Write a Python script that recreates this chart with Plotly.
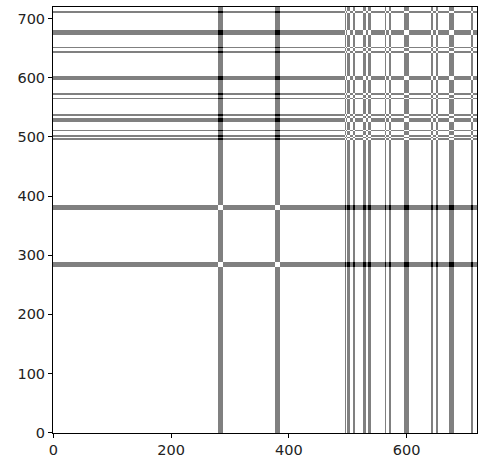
import numpy as np
import plotly.graph_objects as go

n = 720
# line centres / widths (in pixels of the 720x720 matrix) and their values
group_a_pos = [285, 381]
group_a_width = [8, 8]
group_b_pos = [497, 502, 511, 529, 537.5, 565, 572.5, 600, 643.5, 651.5, 677, 712]
group_b_width = [3, 3, 3, 5, 5, 3, 3, 7, 3, 3, 8, 3]
group_a_value = 1
group_b_value = -1

xticks = [0, 200, 400, 600]
yticks = [0, 100, 200, 300, 400, 500, 600, 700]

def fill(s, centres, widths, val):
    for c, w in zip(centres, widths):
        lo = int(round(c - w / 2.0))
        hi = int(round(c + w / 2.0))
        s[lo:hi] = val

s = np.zeros(n)
fill(s, group_a_pos, group_a_width, group_a_value)
fill(s, group_b_pos, group_b_width, group_b_value)

# distance matrix |s_i - s_j|
z = np.abs(s[:, None] - s[None, :]).astype(int)

trace = go.Heatmap(
    z=z,
    zmin=0, zmax=2,
    colorscale=[[0, 'white'], [0.5, 'rgb(128,128,128)'], [1, 'black']],
    showscale=False,
    zsmooth=False,
    hoverinfo='skip',
)

axis_style = dict(
    showgrid=False, zeroline=False, automargin=False,
    showline=True, mirror=True, linecolor='black', linewidth=1,
    ticks='outside', ticklen=4, tickwidth=1, tickcolor='black',
    tickfont=dict(family='DejaVu Sans', size=14.5, color='#222222'),
)

fig = go.Figure(data=[trace])
fig.update_layout(
    width=498, height=476,
    margin=dict(l=53, r=21, t=7, b=43),
    paper_bgcolor='white', plot_bgcolor='white',
    xaxis=dict(range=[-0.5, n - 0.5], tickvals=xticks, **axis_style),
    yaxis=dict(range=[-0.5, n - 0.5], tickvals=yticks, **axis_style),
)
# the page body has a default 8px margin, drop it so the figure sits at 0,0
fig.write_html("out.html", config={'displayModeBar': False},
               post_script="document.body.style.margin='0';")
